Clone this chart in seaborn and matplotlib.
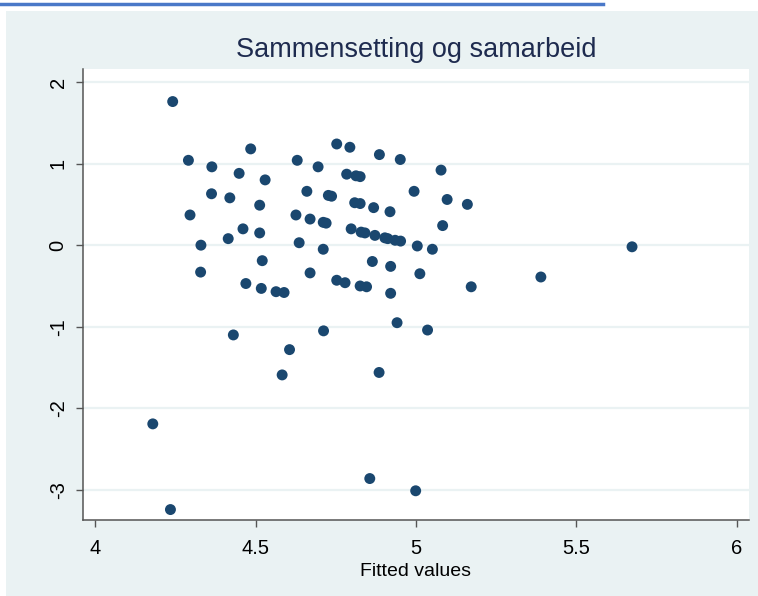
import matplotlib
matplotlib.use("Agg")
import matplotlib.pyplot as plt
import seaborn as sns
import pandas as pd
from matplotlib.patches import Rectangle
from matplotlib.lines import Line2D

# verdier lest av figuren (fitted values og residualer)
fitted = [4.242, 4.291, 4.296, 4.330, 4.329, 4.180, 4.235, 4.364, 4.363, 4.420,
          4.449, 4.485, 4.530, 4.415, 4.461, 4.513, 4.513, 4.521, 4.470, 4.518,
          4.564, 4.589, 4.431, 4.606, 4.583, 4.630, 4.660, 4.626, 4.670, 4.636,
          4.670, 4.753, 4.794, 4.886, 4.951, 4.695, 4.784, 4.813, 4.826, 5.078,
          4.727, 4.737, 4.994, 5.097, 5.160, 4.809, 4.826, 4.868, 4.919, 4.711,
          4.720, 5.083, 4.798, 4.829, 4.841, 4.872, 4.903, 4.912, 4.935, 4.952,
          5.004, 5.051, 4.711, 4.864, 4.921, 5.012, 4.753, 4.779, 4.826, 4.846,
          4.921, 5.172, 4.941, 5.036, 4.712, 4.885, 4.856, 4.999, 5.389, 5.673]
residuals = [1.76, 1.04, 0.37, 0.00, -0.33, -2.19, -3.24, 0.96, 0.63, 0.58,
             0.88, 1.18, 0.80, 0.08, 0.20, 0.49, 0.15, -0.19, -0.47, -0.53,
             -0.57, -0.58, -1.10, -1.28, -1.59, 1.04, 0.66, 0.37, 0.32, 0.03,
             -0.34, 1.24, 1.20, 1.11, 1.05, 0.96, 0.87, 0.85, 0.84, 0.92,
             0.61, 0.60, 0.66, 0.56, 0.50, 0.52, 0.51, 0.46, 0.41, 0.28,
             0.27, 0.24, 0.20, 0.16, 0.15, 0.12, 0.09, 0.08, 0.06, 0.05,
             -0.01, -0.05, -0.05, -0.20, -0.26, -0.35, -0.43, -0.46, -0.50, -0.51,
             -0.59, -0.51, -0.95, -1.04, -1.05, -1.56, -2.86, -3.01, -0.39, -0.02]

x_ticks = [4, 4.5, 5, 5.5, 6]
x_labels = ["4", "4.5", "5", "5.5", "6"]
y_ticks = [2, 1, 0, -1, -2, -3]
y_labels = ["2", "1", "0", "-1", "-2", "-3"]

title = "Sammensetting og samarbeid"
x_title = "Fitted values"

W, H = 758, 596
bg = "#EAF2F3"
navy = "#1A476F"

df = pd.DataFrame({"fitted": fitted, "resid": residuals})

plt.rcParams["font.family"] = ["Liberation Sans", "DejaVu Sans"]

fig = plt.figure(figsize=(W / 100, H / 100), dpi=100, facecolor="white")

# bakgrunn (Stata s2color)
fig.add_artist(Rectangle((6 / W, 0), (W - 6) / W, (H - 11) / H,
                         transform=fig.transFigure, facecolor=bg,
                         edgecolor="none", zorder=0))
# stripe oeverst fra skjermbildet
fig.add_artist(Line2D([0, 603 / W], [1 - 4 / H, 1 - 4 / H], transform=fig.transFigure,
                      color="#4A78C8", lw=2.5))

ax = fig.add_axes([83 / W, (H - 520) / H, (749 - 83) / W, (520 - 69) / H])
ax.set_facecolor("white")

for yt in y_ticks:
    ax.axhline(yt, color=bg, lw=1.6, zorder=0)

sns.scatterplot(data=df, x="fitted", y="resid", ax=ax, color=navy,
                s=62, linewidth=0, edgecolor="none", zorder=3)

ax.set_xlim(3.9626, 6.0374)
ax.set_ylim(-3.368, 2.159)
ax.set_xticks(x_ticks)
ax.set_xticklabels(x_labels)
ax.set_yticks(y_ticks)
ax.set_yticklabels(y_labels, rotation=90, va="center")

for side in ["top", "right"]:
    ax.spines[side].set_visible(False)
for side in ["left", "bottom"]:
    ax.spines[side].set_color("#555555")
    ax.spines[side].set_linewidth(1.1)

ax.tick_params(axis="both", direction="out", length=5, width=1.0,
               color="#555555", labelsize=14.5, labelcolor="black")
ax.tick_params(axis="x", pad=9)
ax.tick_params(axis="y", pad=6)

ax.set_xlabel(x_title, fontsize=14, labelpad=3)
ax.set_ylabel("")

fig.text(416 / W, 1 - 50 / H, title, ha="center", va="center",
         fontsize=19.5, color="#1E2B4F")

fig.savefig("out.png", dpi=100, facecolor=fig.get_facecolor())
